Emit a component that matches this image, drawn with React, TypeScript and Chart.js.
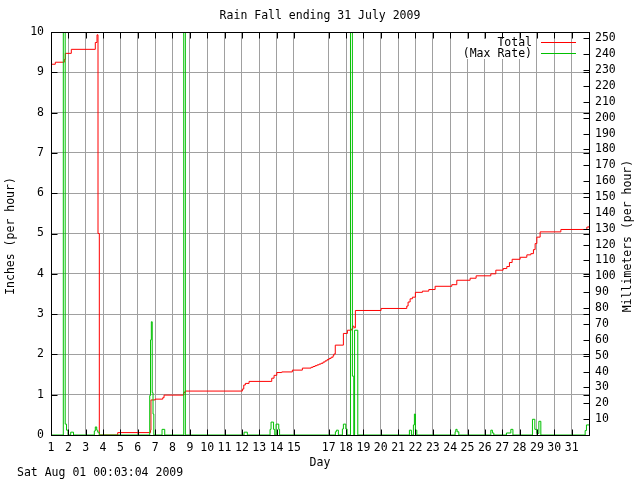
import { useEffect, useRef } from "react";
import { Chart, registerables } from "chart.js";

Chart.register(...registerables);

const TITLE = "Rain Fall ending 31 July 2009";
const X_TITLE = "Day";
const Y_TITLE = "Inches (per hour)";
const Y2_TITLE = "Millimeters (per hour)";
const FOOTER = "Sat Aug 01 00:03:04 2009";
const LEGEND_TOTAL = "Total";
const LEGEND_RATE = "(Max Rate)";

const dayTicks = [1, 2, 3, 4, 5, 6, 7, 8, 9, 10, 11, 12, 13, 14, 15, 17, 18, 19, 20, 21, 22, 23, 24, 25, 26, 27, 28, 29, 30, 31];
const inchTicks = [0, 1, 2, 3, 4, 5, 6, 7, 8, 9, 10];
const mmTicks = [10, 20, 30, 40, 50, 60, 70, 80, 90, 100, 110, 120, 130, 140, 150, 160, 170, 180, 190, 200, 210, 220, 230, 240, 250];

const totalDays = [
  1.0, 1.248, 1.767, 1.824, 2.17, 3.553, 3.651, 3.709, 3.784, 4.844, 6.735, 6.76, 6.994, 7.438, 7.513, 8.648, 8.723,
  12.026, 12.107, 12.199, 12.412, 13.72, 13.853, 14.009, 14.297, 14.908, 15.484, 15.986, 16.101, 16.216, 16.331,
  16.447, 16.562, 16.677, 16.793, 16.908, 17.023, 17.139, 17.254, 17.3, 17.38, 17.847, 18.078, 18.308, 18.389,
  18.464, 18.539, 20.02, 21.501, 21.576, 21.692, 21.824, 21.997, 22.401, 22.769, 23.133, 24.095, 24.383, 25.15,
  25.496, 26.343, 26.631, 27.052, 27.265, 27.415, 27.571, 28.032, 28.418, 28.648, 28.798, 28.896, 28.994, 29.184,
  30.378, 31.876, 32.0,
];
const totalInches = [
  9.2, 9.25, 9.32, 9.47, 9.57, 9.74, 9.93, 5.0, 0.0, 0.06, 0.12, 0.87, 0.89, 0.925, 0.99, 1.05, 1.09,
  1.14, 1.24, 1.28, 1.33, 1.41, 1.48, 1.55, 1.565, 1.61, 1.66, 1.68, 1.7, 1.72, 1.74,
  1.76, 1.78, 1.81, 1.84, 1.87, 1.9, 1.93, 1.97, 2.01, 2.23, 2.52, 2.6, 2.63, 2.7,
  2.66, 3.09, 3.14, 3.2, 3.3, 3.38, 3.42, 3.54, 3.57, 3.61, 3.69, 3.73, 3.84, 3.89,
  3.95, 4.0, 4.09, 4.13, 4.18, 4.28, 4.36, 4.41, 4.47, 4.5, 4.6, 4.75, 4.91, 5.04,
  5.1, 5.16, 5.18,
];

const rateDays = [
  1.0, 1.709, 1.818, 1.893, 1.98, 2.135, 2.297, 3.496, 3.553, 3.634, 3.692, 3.784, 6.689, 6.735, 6.781, 6.833,
  6.879, 6.925, 7.398, 7.553, 8.648, 8.741, 12.124, 12.314, 13.622, 13.68, 13.824, 13.893, 13.968, 14.124, 14.17,
  17.386, 17.444, 17.559, 17.79, 17.847, 17.986, 18.061, 18.256, 18.366, 18.447, 18.493, 18.677, 21.651, 21.767,
  21.882, 21.939, 21.997, 22.078, 24.285, 24.326, 24.401, 24.499, 26.343, 26.435, 26.516, 27.242, 27.496, 27.617,
  28.741, 28.879, 28.994, 29.11, 29.225, 31.778, 31.853, 32.0,
];
const rateInches = [
  0, 30, 0.27, 0.12, 0, 0.07, 0, 0.1, 0.2, 0.12, 0.07, 0, 0.98, 2.36, 2.81, 1.05,
  0.52, 0, 0.14, 0, 30, 0, 0.07, 0, 0.14, 0.32, 0.14, 0, 0.27, 0.14, 0,
  0.08, 0.12, 0, 0.15, 0.27, 0.15, 0, 30, 1.46, 0, 2.6, 0, 0.12, 0,
  0.25, 0.52, 0.12, 0, 0.08, 0.14, 0.08, 0, 0.12, 0.05, 0, 0.05, 0.14, 0,
  0.39, 0.14, 0.04, 0.34, 0, 0.11, 0.25, 0.25,
];

const FONT_FAMILY = '"DejaVu Sans Mono", "Liberation Mono", monospace';
const FONT_SIZE = 11.5;
const RED = "#ff0000";
const GREEN = "#00c000";
const GRID = "#a0a0a0";

const decorPlugin = {
  id: "gnuplotDecor",
  afterDatasetsDraw(chart: any) {
    const { ctx, chartArea, scales } = chart;
    const { left, right, top, bottom } = chartArea;
    const al = (v: number) => Math.round(v) + 0.5;
    ctx.save();
    ctx.strokeStyle = "#000000";
    ctx.lineWidth = 1;
    // frame
    ctx.strokeRect(al(left), al(top), Math.round(right) - Math.round(left), Math.round(bottom) - Math.round(top));
    const T = 6;
    ctx.beginPath();
    for (const d of dayTicks) {
      const x = al(scales.x.getPixelForValue(d));
      ctx.moveTo(x, al(bottom));
      ctx.lineTo(x, al(bottom) - T);
      ctx.moveTo(x, al(top));
      ctx.lineTo(x, al(top) + T);
    }
    for (const v of inchTicks) {
      const y = al(scales.y.getPixelForValue(v));
      ctx.moveTo(al(left), y);
      ctx.lineTo(al(left) + T, y);
      ctx.moveTo(al(right), y);
      ctx.lineTo(al(right) - T, y);
    }
    for (const v of mmTicks) {
      const y = al(scales.y2.getPixelForValue(v));
      ctx.moveTo(al(right), y);
      ctx.lineTo(al(right) - T, y);
    }
    ctx.stroke();

    // legend: text area is opaque, sample lines are drawn over the grid
    ctx.fillStyle = "#ffffff";
    ctx.fillRect(461, 39, 74, 20);
    ctx.font = `${FONT_SIZE}px ${FONT_FAMILY}`;
    ctx.fillStyle = "#000000";
    ctx.textAlign = "right";
    ctx.textBaseline = "middle";
    ctx.fillText(LEGEND_TOTAL, 532, 43);
    ctx.fillText(LEGEND_RATE, 532, 54);
    ctx.strokeStyle = RED;
    ctx.beginPath();
    ctx.moveTo(541, 42.5);
    ctx.lineTo(576, 42.5);
    ctx.stroke();
    ctx.strokeStyle = GREEN;
    ctx.beginPath();
    ctx.moveTo(541, 53.5);
    ctx.lineTo(576, 53.5);
    ctx.stroke();

    // titles
    ctx.fillStyle = "#000000";
    ctx.textAlign = "center";
    ctx.fillText(TITLE, 320, 16);
    ctx.fillText(X_TITLE, 320, 463);
    ctx.textAlign = "left";
    ctx.fillText(FOOTER, 17, 473.5);

    ctx.textAlign = "center";
    ctx.save();
    ctx.translate(11, 236);
    ctx.rotate(-Math.PI / 2);
    ctx.fillText(Y_TITLE, 0, 0);
    ctx.restore();
    ctx.save();
    ctx.translate(628, 236);
    ctx.rotate(-Math.PI / 2);
    ctx.fillText(Y2_TITLE, 0, 0);
    ctx.restore();

    ctx.restore();
  },
};

export default function App() {
  const ref = useRef<HTMLCanvasElement | null>(null);

  useEffect(() => {
    if (!ref.current) return;
    const font = { family: FONT_FAMILY, size: FONT_SIZE };
    const chart = new Chart(ref.current, {
      type: "line",
      data: {
        datasets: [
          {
            label: LEGEND_RATE,
            data: rateDays.map((d, i) => ({ x: d, y: rateInches[i] })),
            borderColor: GREEN,
            borderWidth: 1,
            pointRadius: 0,
            stepped: true,
            fill: false,
            order: 0,
            yAxisID: "y",
          },
          {
            label: LEGEND_TOTAL,
            data: totalDays.map((d, i) => ({ x: d, y: totalInches[i] })),
            borderColor: RED,
            borderWidth: 1,
            pointRadius: 0,
            stepped: true,
            fill: false,
            order: 1,
            yAxisID: "y",
          },
        ],
      },
      options: {
        animation: false,
        responsive: false,
        devicePixelRatio: 1,
        layout: { padding: { top: 32, left: 0, right: 0, bottom: 0 } },
        plugins: { legend: { display: false }, tooltip: { enabled: false }, title: { display: false } },
        scales: {
          x: {
            type: "linear",
            min: 1,
            max: 32,
            afterBuildTicks: (s: any) => {
              s.ticks = dayTicks.map((v) => ({ value: v }));
            },
            afterFit: (s: any) => {
              s.height = 45;
            },
            ticks: {
              autoSkip: false,
              maxRotation: 0,
              minRotation: 0,
              padding: 6,
              color: "#000000",
              font,
              callback: (v: any) => String(v),
            },
            grid: { color: GRID, lineWidth: 1, drawTicks: false },
            border: { display: false },
          },
          y: {
            type: "linear",
            position: "left",
            min: 0,
            max: 10,
            afterBuildTicks: (s: any) => {
              s.ticks = inchTicks.map((v) => ({ value: v }));
            },
            afterFit: (s: any) => {
              s.width = 51;
            },
            ticks: { padding: 7, color: "#000000", font, callback: (v: any) => String(v) },
            grid: { color: GRID, lineWidth: 1, drawTicks: false },
            border: { display: false },
          },
          y2: {
            type: "linear",
            position: "right",
            min: 0,
            max: 254,
            afterBuildTicks: (s: any) => {
              s.ticks = mmTicks.map((v) => ({ value: v }));
            },
            afterFit: (s: any) => {
              s.width = 51;
            },
            ticks: { padding: 6, color: "#000000", font, autoSkip: false, callback: (v: any) => String(v) },
            grid: { display: false, drawTicks: false },
            border: { display: false },
          },
        },
      },
      plugins: [decorPlugin],
    });
    return () => chart.destroy();
  }, []);

  return (
    <div style={{ position: "fixed", left: 0, top: 0, width: 640, height: 480, background: "#ffffff" }}>
      <canvas ref={ref} width={640} height={480} />
    </div>
  );
}
